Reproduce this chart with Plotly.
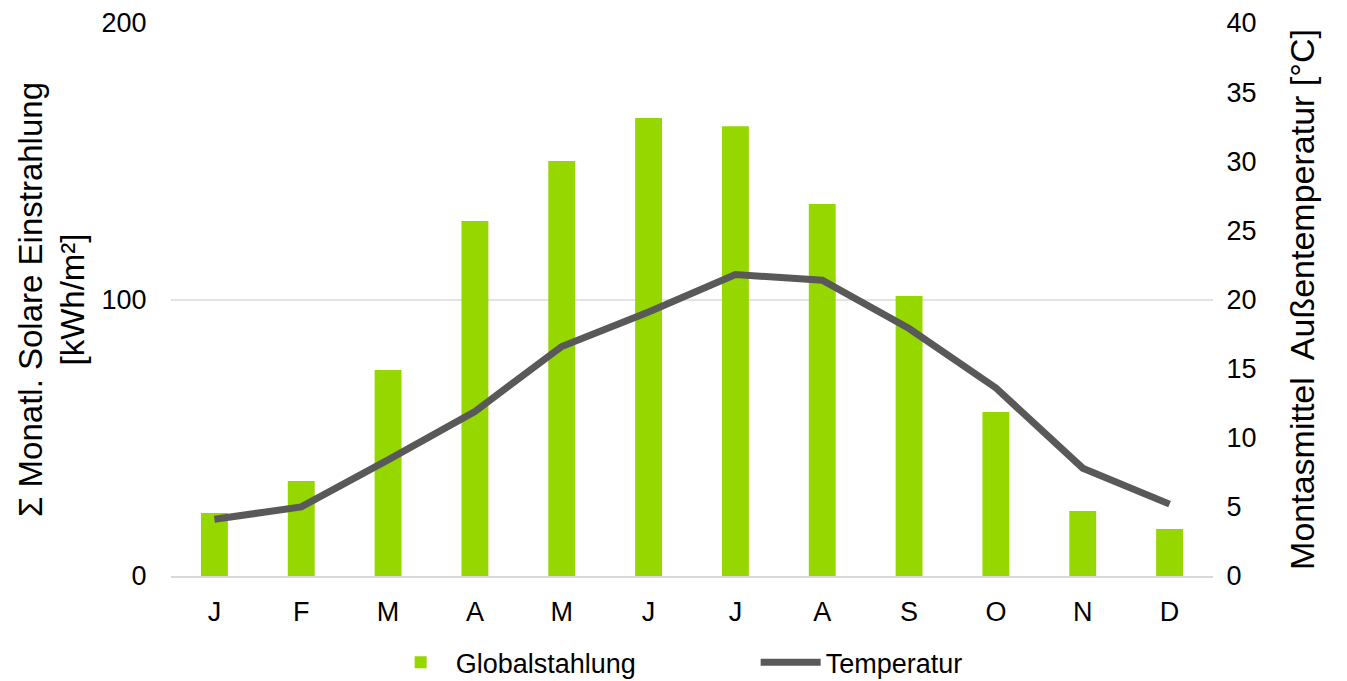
import plotly.graph_objects as go

months = ["J", "F", "M", "A", "M", "J", "J", "A", "S", "O", "N", "D"]
radiation = [22.8, 34.4, 74.5, 128.4, 150.1, 165.6, 162.7, 134.5, 101.3, 59.3, 23.5, 17.0]
temperature = [4.1, 5.0, 8.4, 11.9, 16.6, 19.1, 21.8, 21.4, 17.9, 13.6, 7.8, 5.2]
x_idx = list(range(len(months)))

FONT = "Liberation Sans, Arial, sans-serif"

fig = go.Figure()
fig.add_trace(go.Bar(
    x=x_idx, y=radiation, name="Globalstahlung",
    marker=dict(color="#97D700", line=dict(width=0)),
    yaxis="y",
))
fig.add_trace(go.Scatter(
    x=x_idx, y=temperature, name="Temperatur", mode="lines",
    line=dict(color="#595959", width=7),
    yaxis="y2",
))

fig.update_layout(
    width=1347, height=681,
    margin=dict(l=163, r=142, t=15, b=113, autoexpand=False),
    paper_bgcolor="white", plot_bgcolor="white",
    font=dict(family=FONT, size=27, color="#000000"),
    bargap=0.69,
    showlegend=True,
    legend=dict(orientation="h", x=0.206, xanchor="left", y=-0.157, yanchor="middle",
                font=dict(size=27), entrywidth=295, itemwidth=60),
    xaxis=dict(
        tickmode="array", tickvals=x_idx, ticktext=months,
        range=[-0.5, 11.5], showgrid=False, zeroline=False,
        showline=True, linecolor="#D9D9D9", linewidth=2,
        ticks="outside", ticklen=11, tickcolor="rgba(0,0,0,0)", tickfont=dict(size=27),
    ),
    yaxis=dict(
        range=[0, 200], tickvals=[0, 100, 200], showgrid=True,
        gridcolor="#E3E3E3", gridwidth=2, zeroline=False,
        ticks="outside", ticklen=18, tickcolor="rgba(0,0,0,0)",
        tickfont=dict(size=27),
        title=dict(text="Σ Monatl. Solare Einstrahlung<br>[kWh/m²]", font=dict(size=33), standoff=6),
    ),
    yaxis2=dict(
        range=[0, 40], tickvals=list(range(0, 41, 5)), overlaying="y", side="right",
        showgrid=False, zeroline=False, tickfont=dict(size=27),
        ticks="outside", ticklen=7, tickcolor="rgba(0,0,0,0)",
        title=dict(text="Montasmittel  Außentemperatur [°C]", font=dict(size=34), standoff=34),
    ),
)

fig.write_html("out.html")
